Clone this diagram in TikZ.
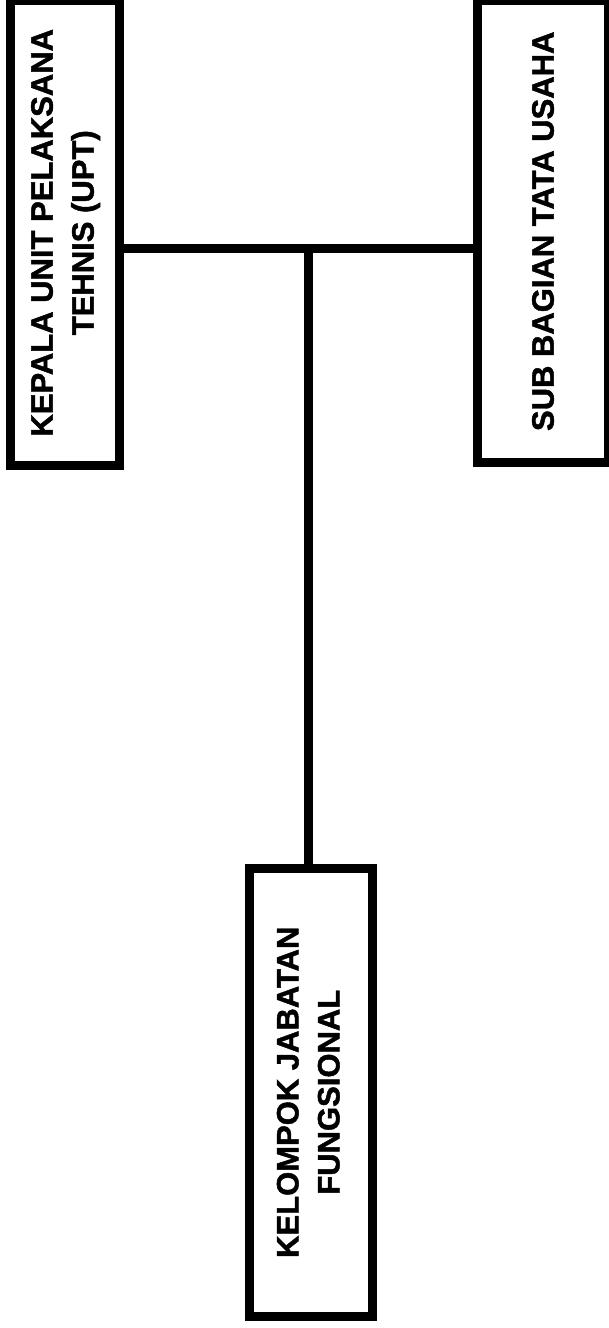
\documentclass[tikz,border=0pt]{standalone}
\usepackage{fontspec}
\setmainfont[BoldFeatures={FakeBold=1.5}]{Liberation Sans}
\begin{document}
\begin{tikzpicture}[x=1pt,y=-1pt,
  orgbox/.style={draw=black, line width=9pt, fill=white, inner sep=0pt, outer sep=0pt,
    font=\bfseries\fontsize{31}{41}\selectfont},
  link/.style={draw=black, line width=9pt}]
\useasboundingbox (0,0) rectangle (609,1328);
\node[orgbox, minimum width=109pt, minimum height=464.5pt] (kepala) at (65,232.75)
  {\rotatebox{90}{\begin{tabular}{@{}c@{}}KEPALA UNIT PELAKSANA\\TEHNIS (UPT)\end{tabular}}};
\node[orgbox, minimum width=131pt, minimum height=461.5pt] (subbag) at (543,231.25)
  {\rotatebox{90}{SUB BAGIAN TATA USAHA}};
\node[orgbox, minimum width=123.5pt, minimum height=447.5pt] (kelompok) at (310.75,1092.25)
  {\rotatebox{90}{\begin{tabular}{@{}c@{}}KELOMPOK JABATAN\\FUNGSIONAL\end{tabular}}};
\coordinate (j) at (308,248.5);
\draw[link] (kepala.east |- j) -- (subbag.west |- j);
\draw[link] (j) -- (j |- kelompok.north);
\end{tikzpicture}
\end{document}
